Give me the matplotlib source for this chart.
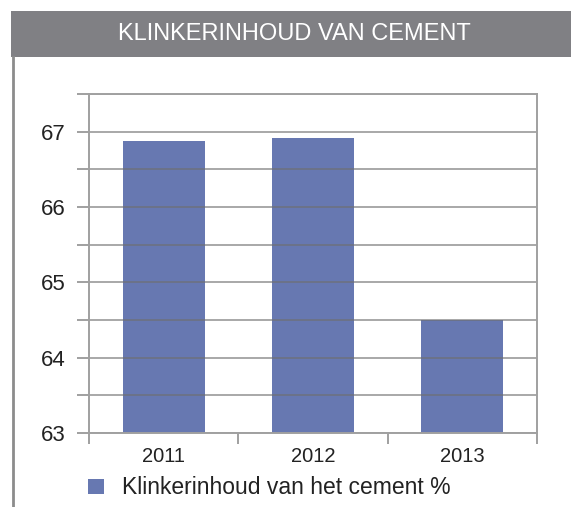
import matplotlib
matplotlib.use("Agg")
import matplotlib.pyplot as plt
from matplotlib.patches import Rectangle
from matplotlib.lines import Line2D
from matplotlib.ticker import MultipleLocator, FixedLocator

# data
years = ["2011", "2012", "2013"]
klinker_pct = [66.87, 66.91, 64.50]
series_name = "Klinkerinhoud van het cement %"
title = "KLINKERINHOUD VAN CEMENT"

W, H = 571, 507
plt.rcParams['font.family'] = ['Liberation Sans', 'DejaVu Sans']

fig = plt.figure(figsize=(W / 100, H / 100), dpi=100)

# grey title banner and left border
fig.patches.append(Rectangle((11 / W, 1 - 57 / H), 1, 46 / H, transform=fig.transFigure,
                             facecolor='#808084', edgecolor='none'))
fig.lines.append(Line2D([13 / W, 13 / W], [0, 1 - 57 / H], transform=fig.transFigure,
                        color='#8c8c8c', lw=2))
fig.text(294 / W, 1 - 34 / H, title, color='white', fontsize=17, ha='center', va='center')

# plot area in pixel coords
left, right, top, bottom = 89, 537, 94, 433
ax = fig.add_axes([left / W, 1 - bottom / H, (right - left) / W, (bottom - top) / H])

x = range(len(years))
ax.bar(x, klinker_pct, width=0.55, color='#6778b1', zorder=2)
ax.set_xlim(-0.5, len(years) - 0.5)
ax.set_ylim(63, 67.5)

# gridlines every half unit, drawn over the bars
ax.yaxis.set_major_locator(MultipleLocator(1))
ax.yaxis.set_minor_locator(MultipleLocator(0.5))
ax.grid(axis='y', which='both', color='#6e6e6e', lw=1.4, alpha=0.6, zorder=3)
ax.set_axisbelow(False)
ax.tick_params(axis='y', which='both', length=8.6, width=1.4, color='#a0a0a0',
               direction='out', pad=8, labelsize=16, labelcolor='#222222')
ax.set_yticks([63, 64, 65, 66, 67])
ax.set_yticklabels(["63", "64", "65", "66", "67"])

# category labels centered, tick marks at category borders
ax.set_xticks(list(x))
ax.set_xticklabels(years)
ax.xaxis.set_minor_locator(FixedLocator([-0.5, 0.5, 1.5, 2.5]))
ax.tick_params(axis='x', which='major', length=0, pad=10, labelsize=14.5, labelcolor='#222222')
ax.tick_params(axis='x', which='minor', length=8, width=1.4, color='#a0a0a0', direction='out')

for s in ax.spines.values():
    s.set_color('#a0a0a0')
    s.set_linewidth(1.4)
    s.set_zorder(4)

# legend
fig.patches.append(Rectangle((88 / W, 1 - 494 / H), 16 / W, 15 / H, transform=fig.transFigure,
                             facecolor='#6778b1', edgecolor='none'))
fig.text(122 / W, 1 - 487 / H, series_name, fontsize=16.5, color='#222222', va='center', ha='left')

fig.savefig("out.png", dpi=100)
